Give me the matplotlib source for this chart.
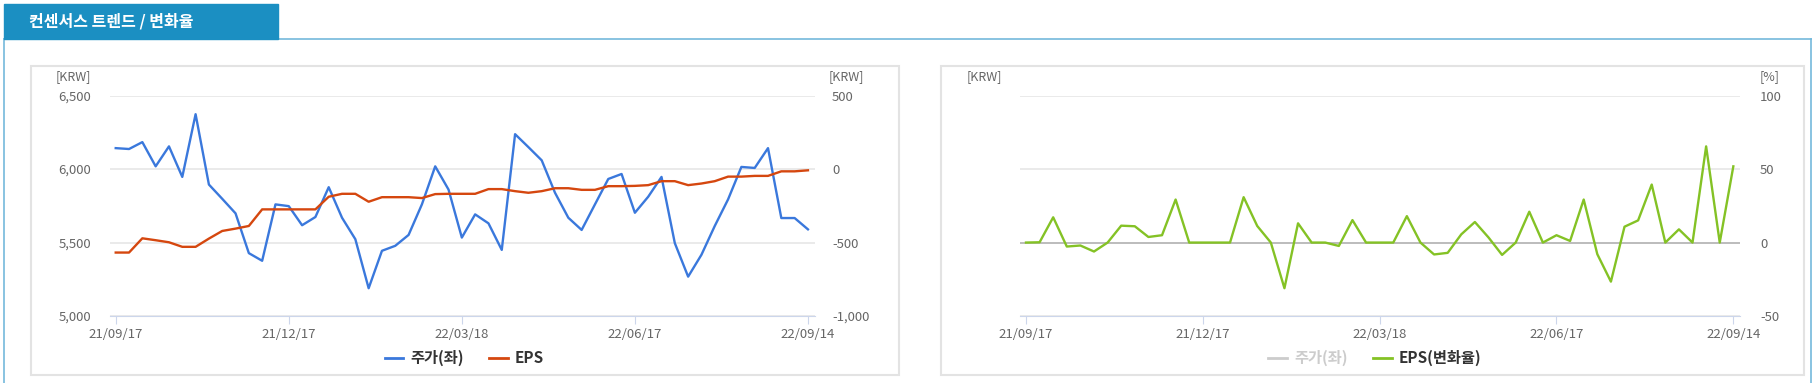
import numpy as np
import matplotlib.pyplot as plt
from matplotlib.patches import Rectangle
from matplotlib.lines import Line2D

plt.rcParams['font.family'] = ['Noto Sans CJK KR', 'DejaVu Sans']

W, H = 1812, 383

# weekly points, 21/09/17 .. 22/09/14
price = [6143, 6137, 6184, 6019, 6155, 5947, 6374, 5895, 5798, 5699,
         5428, 5376, 5760, 5748, 5618, 5674, 5877, 5669, 5523, 5189,
         5444, 5478, 5552, 5760, 6019, 5861, 5534, 5692, 5631, 5450,
         6238, 6150, 6060, 5839, 5669, 5586, 5760, 5933, 5967, 5703,
         5812, 5947, 5496, 5268, 5417, 5613, 5794, 6015, 6008, 6143,
         5667, 5667, 5590]
eps = [-568, -568, -471, -484, -498, -529, -529, -473, -421, -405,
       -387, -274, -274, -274, -274, -274, -188, -168, -168, -222,
       -191, -191, -191, -197, -170, -168, -168, -168, -136, -136,
       -150, -161, -150, -130, -130, -141, -141, -116, -116, -114,
       -109, -82, -82, -109, -98, -82, -51, -51, -46, -46,
       -15, -15, -8]
eps_chg = [0, 0.2, 17.2, -2.7, -2, -6.1, 0, 11.5, 11.1, 3.8,
           5.0, 29.3, 0, 0, 0, 0, 30.9, 11.3, 0, -31.1,
           13.1, 0, 0, -2.3, 15.3, 0, 0, 0, 18, 0,
           -8.1, -7, 5.6, 14, 3.5, -8.4, 0, 21, 0, 5,
           1.1, 29.3, -7.9, -26.6, 10.8, 15.1, 39.5, 0, 9, 0,
           65.5, 0, 51.9]
tick_idx = [0, 13, 26, 39, 52]
tick_labels = ['21/09/17', '21/12/17', '22/03/18', '22/06/17', '22/09/14']

BLUE = '#3a78dc'
ORANGE = '#d5470f'
GREEN = '#84c225'
TAB = '#1b8fc2'
GRID = '#e6e6e6'
AXIS = '#ccd6eb'
LABEL = '#666666'
PX = 0.72  # points per pixel at dpi 100


def fx(x):
    return x / W


def fy(y):
    return 1 - y / H


def make_axes(fig, x0, x1, y0, y1):
    ax = fig.add_axes([fx(x0), fy(y1), fx(x1) - fx(x0), (y1 - y0) / H])
    ax.set_facecolor('none')
    for s in ['top', 'right', 'left']:
        ax.spines[s].set_visible(False)
    ax.spines['bottom'].set_color(AXIS)
    ax.set_xticks(tick_idx)
    ax.set_xticklabels(tick_labels, color=LABEL, fontsize=9.5)
    ax.tick_params(axis='x', length=6, color=AXIS, pad=3)
    ax.tick_params(axis='y', length=0)
    return ax


fig = plt.figure(figsize=(W / 100, H / 100), dpi=100)

# frame and title tab
fig.add_artist(Line2D([fx(4), 1], [fy(39), fy(39)], color='#74b9dc', lw=1.2))
fig.add_artist(Line2D([fx(4), fx(4)], [fy(39), 0], color='#74b9dc', lw=1.2))
fig.add_artist(Line2D([fx(1811), fx(1811)], [fy(39), 0], color='#74b9dc', lw=1.2))
fig.add_artist(Rectangle((fx(4), fy(39)), fx(278) - fx(4), (39 - 4) / H,
                         transform=fig.transFigure, color=TAB, zorder=2))
fig.text(fx(29), fy(21.5), '컨센서스 트렌드 / 변화율', color='white', fontsize=11.5,
         fontweight='bold', va='center', ha='left')

for x0, x1 in [(31, 899), (941, 1804)]:
    fig.add_artist(Rectangle((fx(x0), fy(375)), fx(x1) - fx(x0), (375 - 66) / H,
                             transform=fig.transFigure, fill=False,
                             edgecolor='#e3e3e3', lw=1.5))

x = np.arange(len(price))

# left chart: price and EPS
ax1 = make_axes(fig, 110, 815, 95.7, 316)
ax1.set_xlim(-0.43, 52.53)
ax1.set_ylim(5000, 6500)
ax1.set_yticks([5000, 5500, 6000, 6500])
ax1.set_yticklabels(['5,000', '5,500', '6,000', '6,500'], color=LABEL, fontsize=9.5)
ax1.tick_params(axis='y', pad=19 * PX)
ax1.grid(axis='y', color=GRID, lw=1.2)
ax1.set_axisbelow(True)
ax1b = ax1.twinx()
for s in ['top', 'right', 'left', 'bottom']:
    ax1b.spines[s].set_visible(False)
ax1b.set_ylim(-1000, 500)
ax1b.set_yticks([-1000, -500, 0, 500])
ax1b.set_yticklabels(['-1,000', '-500', '0', '500'], color=LABEL, fontsize=9.5)
ax1b.tick_params(axis='y', length=0, pad=17 * PX)
ax1.plot(x, price, color=BLUE, lw=1.7, zorder=3)
ax1b.plot(x, eps, color=ORANGE, lw=1.7)
fig.text(fx(91), fy(77), '[KRW]', color=LABEL, fontsize=9, ha='right', va='center')
fig.text(fx(829), fy(77), '[KRW]', color=LABEL, fontsize=9, ha='left', va='center')

# right chart: EPS change rate
ax2 = make_axes(fig, 1020, 1740, 95.7, 316)
ax2.set_xlim(-0.44, 52.49)
ax2.set_yticks([])
ax2b = ax2.twinx()
for s in ['top', 'right', 'left', 'bottom']:
    ax2b.spines[s].set_visible(False)
ax2b.set_ylim(-50, 100)
ax2b.set_yticks([-50, 0, 50, 100])
ax2b.set_yticklabels(['-50', '0', '50', '100'], color=LABEL, fontsize=9.5)
ax2b.tick_params(axis='y', length=0, pad=20 * PX)
ax2b.grid(axis='y', color=GRID, lw=1.2)
ax2b.axhline(0, color='#b5b5b5', lw=1.2)
ax2b.plot(x, eps_chg, color=GREEN, lw=1.7)
fig.text(fx(1002), fy(77), '[KRW]', color=LABEL, fontsize=9, ha='right', va='center')
fig.text(fx(1760), fy(77), '[%]', color=LABEL, fontsize=9, ha='left', va='center')

# legends
legend_items = [
    (385, 403, BLUE, '주가(좌)', '#333333'),
    (489, 508, ORANGE, 'EPS', '#333333'),
    (1268, 1287, '#cccccc', '주가(좌)', '#cccccc'),
    (1373, 1392, GREEN, 'EPS(변화율)', '#333333'),
]
for lx0, lx1, c, txt, tc in legend_items:
    fig.add_artist(Line2D([fx(lx0), fx(lx1)], [fy(358), fy(358)], color=c, lw=2))
    fig.text(fx(lx1 + 7), fy(358), txt, color=tc, fontsize=11, fontweight='bold',
             ha='left', va='center')

fig.savefig('out.png', dpi=100)
